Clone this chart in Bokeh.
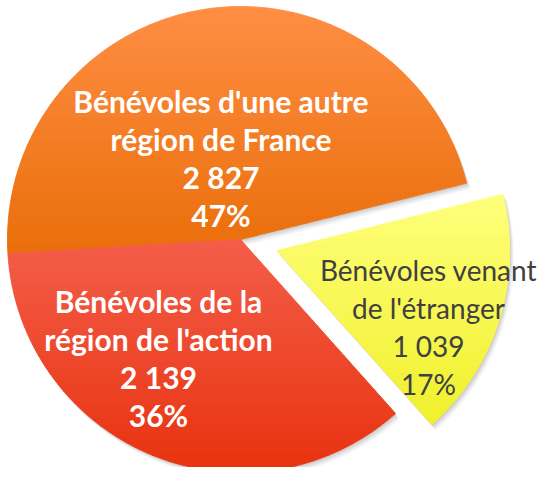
import numpy as np
from bokeh.plotting import figure
from bokeh.models import Range1d, ColumnDataSource
from bokeh.core.properties import value
from bokeh.embed import file_html
from bokeh.resources import INLINE

# ---- data ----
categories = ["Bénévoles d'une autre\nrégion de France",
              "Bénévoles de la\nrégion de l'action",
              "Bénévoles venant\nde l'étranger"]
counts = [2827, 2139, 1039]

# ---- style / layout ----
W, H = 541, 467
CX, CY, R = 240.0, 228.0, 233.0          # pie centre / radius in px
START_DEG = 14.0                          # angle of first slice edge (ccw, y up)
explode = [0.0, 0.0, 38.0]
top_colors = ["#FF8E44", "#F45E4A", "#FFFF7C"]
bot_colors = ["#EA6E0A", "#E8320E", "#F0F02C"]
text_colors = ["#FFFFFF", "#FFFFFF", "#404040"]
text_bold = ["bold", "bold", "normal"]
text_size = ["30px", "30px", "28px"]
label_x = [228.5, 166.0, 436.0]           # page px
label_y0 = [108.0, 308.0, 277.0]          # page px baseline of first line
LINE = 38.3
FONT = "Lato"

p = figure(width=W, height=H, output_backend="svg", toolbar_location=None,
           x_range=Range1d(0, W), y_range=Range1d(0, H), min_border=0)
p.axis.visible = False
p.grid.visible = False
p.outline_line_color = None
p.background_fill_color = "white"
p.border_fill_color = "white"


def hex2rgb(h):
    return np.array([int(h[i:i + 2], 16) for i in (1, 3, 5)], dtype=float)


def rgb2hex(c):
    return "#%02x%02x%02x" % tuple(int(round(v)) for v in c)


def clip(poly, y0, keep_above):
    out = []
    n = len(poly)
    for i in range(n):
        P = poly[i]
        Q = poly[(i + 1) % n]
        pin = P[1] >= y0 if keep_above else P[1] <= y0
        qin = Q[1] >= y0 if keep_above else Q[1] <= y0
        if pin:
            out.append(P)
        if pin != qin:
            t = (y0 - P[1]) / (Q[1] - P[1])
            out.append((P[0] + t * (Q[0] - P[0]), y0))
    return out


total = float(sum(counts))
fracs = [c / total for c in counts]
angles = []
a = np.deg2rad(START_DEG)
for f in fracs:
    angles.append((a, a + 2 * np.pi * f))
    a += 2 * np.pi * f

polys = []
for (a0, a1), ex in zip(angles, explode):
    mid = (a0 + a1) / 2
    ox, oy = CX + ex * np.cos(mid), CY + ex * np.sin(mid)
    t = np.linspace(a0, a1, 120)
    xs = np.concatenate([[ox], ox + R * np.cos(t)])
    ys = np.concatenate([[oy], oy + R * np.sin(t)])
    polys.append((xs, ys))

# soft shadow
for dx, dy, al in [(1.0, -1.5, 0.10), (2.0, -3.0, 0.09), (3.0, -4.5, 0.07), (4.0, -6.0, 0.05)]:
    p.patches(xs=[list(x + dx) for x, _ in polys], ys=[list(y + dy) for _, y in polys],
              fill_color="#505050", fill_alpha=al, line_color=None)

# gradient-filled slices (horizontal bands)
N = 40
for (xs, ys), c0, c1 in zip(polys, top_colors, bot_colors):
    pts = list(zip(xs, ys))
    ymax, ymin = ys.max(), ys.min()
    h = (ymax - ymin) / N
    bx, by, bc = [], [], []
    rgb0, rgb1 = hex2rgb(c0), hex2rgb(c1)
    for k in range(N):
        ytop = ymax - k * h
        ybot = ymax - (k + 1) * h
        band = clip(clip(pts, ybot, True), ytop, False)
        if len(band) < 3:
            continue
        col = rgb2hex(rgb0 + (rgb1 - rgb0) * (k + 0.5) / N)
        bx.append([q[0] for q in band])
        by.append([q[1] for q in band])
        bc.append(col)
    src = ColumnDataSource(dict(xs=bx, ys=by, c=bc))
    p.patches("xs", "ys", source=src, fill_color="c", line_color="c", line_width=0.9)

# labels
for i, (cat, cnt, fr) in enumerate(zip(categories, counts, fracs)):
    lines = cat.split("\n") + [f"{cnt:,}".replace(",", " "), f"{round(fr * 100)}%"]
    ys_ = [H - (label_y0[i] + j * LINE - 8) for j in range(len(lines))]
    xs_ = [label_x[i] - 8] * len(lines)
    p.text(x=xs_, y=ys_, text=lines, text_align="center", text_baseline="alphabetic",
           text_font=value(FONT), text_font_size=text_size[i], text_font_style=text_bold[i],
           text_color=text_colors[i])

open("out.html", "w").write(file_html(p, INLINE))
